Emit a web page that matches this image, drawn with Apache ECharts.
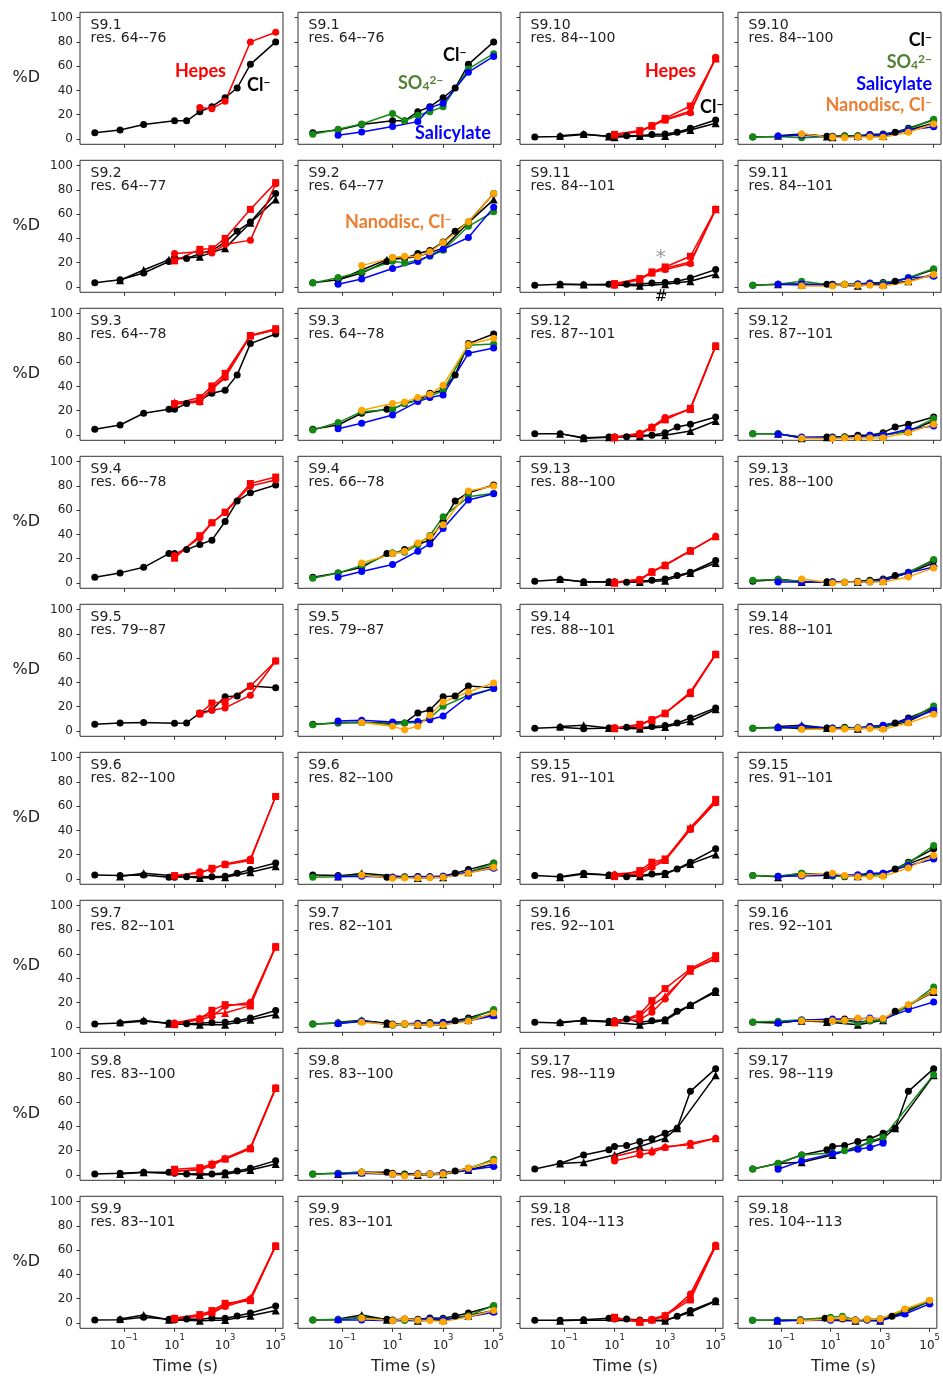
<!DOCTYPE html>
<html><head><meta charset="utf-8">
<script src="https://cdn.jsdelivr.net/npm/echarts@6/dist/echarts.min.js"></script>
<style>html,body{margin:0;padding:0;background:#fff}#c{width:943px;height:1376px}</style>
</head><body><div id="c"></div>
<script>
const N = null;
// time points (s)
const TIME_CL = [0.007, 0.07, 0.6, 6, 10, 30, 100, 300, 1000, 3000, 10000, 100000];
const TIME_HEPES = [10, 100, 300, 1000, 10000, 100000];
const TIME_SO4 = [0.007, 0.07, 0.6, 10, 30, 100, 300, 1000, 10000, 100000];
const TIME_SAL = [0.07, 0.6, 10, 100, 300, 1000, 10000, 100000];
const TIME_ND = [0.6, 10, 30, 100, 300, 1000, 10000, 100000];

const PEPTIDES = ['S9.1','S9.2','S9.3','S9.4','S9.5','S9.6','S9.7','S9.8','S9.9',
  'S9.10','S9.11','S9.12','S9.13','S9.14','S9.15','S9.16','S9.17','S9.18'];
const RESIDUES = ['64--76','64--77','64--78','66--78','79--87','82--100','82--101','83--100','83--101',
  '84--100','84--101','87--101','88--100','88--101','91--101','92--101','98--119','104--113'];

// Cl- (black circles), times TIME_CL
const CL_CIRCLE = [
  [5.2, 7.4, 12, N, 15, 15, 22.5, 26.6, 34, 42, 61.5, 80],
  [3.5, 6, 11.5, 21, 24, 23.5, 27.5, 30, 37, 46, 53.5, 77],
  [4.7, 8.2, 17.9, 21.2, 21.2, 26, 28.8, 34.3, 36.8, 49.5, 75.3, 83.2],
  [4.7, 8.3, 12.9, 24.2, 24.2, 27.5, 31.7, 35.3, 50.7, 67.5, 74.4, 80.7],
  [5.5, 6.6, 6.9, N, 6.3, 6.6, 14.8, 17.3, 28.3, 28.8, 37, 35.7],
  [3.3, 2.8, 3.3, 1.4, 1.5, 1.9, 2, 1.9, 2.2, 4.7, 7.7, 13.2],
  [2.5, 3.3, 4.7, 3.3, 2.5, 2.7, 3, 3.6, 3.8, 5.2, 7.4, 13.5],
  [0.8, 1.4, 2.2, 2.2, 1.5, 0.8, 1, 0.8, 1.9, 3.3, 5.5, 11.8],
  [2.5, 2.7, 4.7, 3, 2.5, 3.3, 3, 4.1, 3.8, 5.8, 8.2, 14],
  [1.6, 2, 3.6, 2.2, 2.2, 2.7, 2.7, 3.6, 4, 5.5, 8.8, 15.7],
  [1.4, 2.2, 1.9, 2.2, 2.2, 2.2, 2.5, 3.3, 3.6, 4.7, 7.4, 14.3],
  [1.1, 1.1, -2.2, -1.6, -1.6, -1.4, -0.3, -0.3, 1.9, 6.6, 8.8, 14.8],
  [1.4, 2.8, 1.1, 1.1, 1.1, 0.5, 1.4, 2.2, 3.3, 6.1, 8.8, 18.5],
  [2.2, 3, 1.9, 2.5, 2.5, 3, 2.5, 3.6, 4.4, 6.6, 10.7, 19],
  [2.8, 1.9, 4.7, 3.3, 3.3, 1.9, 2.8, 4.1, 4.7, 8.3, 13.8, 24.8],
  [3.8, 3.3, 5.5, 4.7, 5.2, 6.6, 3.8, 5.2, 6, 12.9, 17.9, 29.9],
  [5, 9.4, 16.5, 20.7, 23.4, 24.2, 27.5, 29.8, 34.4, 38.6, 68.9, 87.6],
  [2.2, 2.2, 2.7, 3.8, 3.3, 3.3, 2.5, 2.5, 2, 5.5, 10.2, 18.4]
];
// Cl- replicate (black triangles), times TIME_CL
const CL_TRIANGLE = [
  [],
  [N, 5.5, 14, 22.5, N, N, 25, N, 32, N, 53, 72],
  [],
  [],
  [],
  [N, 2, 4.7, N, N, N, 0.8, N, 1.4, N, 5.5, 10.5],
  [N, 3.8, 5.5, 2.7, N, N, 1.9, N, 1.9, N, 6, 10.2],
  [N, 0.8, 2.2, N, N, N, 0, N, 0.5, N, 4.1, 9.1],
  [N, 3.3, 6.6, 2.7, N, N, 1.9, N, 2.5, N, 6, 10.2],
  [N, 2.7, 4, 2, 1.4, N, 2.5, N, 2.5, N, 7.4, 13],
  [N, 2.2, 2, N, N, N, 1.1, N, 2.2, N, 4.7, 10.5],
  [N, 1.1, -2.7, -1.9, N, N, -1, N, -0.3, N, 3.3, 11.5],
  [N, 3.3, 0.8, 0.8, N, N, 0.8, N, 1.9, N, 8.3, 16.5],
  [N, 3.6, 4.7, 2.5, N, N, 1.9, N, 3.3, N, 8, 17.9],
  [N, 1.4, 4.1, 3.3, N, N, 2.2, N, 4.1, N, 12.4, 20.1],
  [N, 4.1, 5.2, 4.1, N, N, 1.9, N, 5.5, N, 18, 28.8],
  [N, 9.4, 10.5, N, 16.5, N, 23.4, N, 30.3, 38.6, N, 82.1],
  [N, 1.9, 2.5, N, N, N, 1.9, N, 1.9, N, 8.8, 17.9]
];
// Hepes (red), times TIME_HEPES
const HEPES_CIRCLE = [
  [N, 26, 25, 31, 80, 88],
  [27.5, 29, 28, 35, 38.6, 85],
  [25.3, 27.2, 37.6, 47.3, 81.6, 86.8],
  [22.6, 37.2, 49.6, 57.9, 79.9, 84.8],
  [N, 13.7, 17, 19, 29.4, 57.7],
  [2.2, 6, 7.7, 12.4, 16.5, 68],
  [3.3, 6, 8.8, 17, 20.3, 66.2],
  [3.3, 4.1, 7.7, 13.2, 22, 71.6],
  [3.3, 5.5, 8.2, 13.5, 19.8, 63.5],
  [3.3, 6, 10.7, 15.7, 21.7, 67.3],
  [1.4, 6, 11.6, 14.3, 19.3, 64],
  [-1.6, 1.4, 6.6, 14.3, 21.2, 73.4],
  [0.6, 2.8, 9.4, 14.9, 26.7, 38.6],
  [2.5, 4.7, 9.3, 14.6, 32.1, 63.2],
  [3.3, 4.1, 9.6, 15.2, 40.8, 62.8],
  [4.7, 6, 12.1, 23.1, 47.3, 56],
  [11.6, 16.5, 18.7, 22.6, 26.2, 30.3],
  [3.8, 1.9, 2.7, 5.5, 23.9, 64.3]
];
const HEPES_TRIANGLE = [
  [],
  [],
  [27, 28, 38.5, 48.5, 82, 87],
  [],
  [],
  [],
  [3.3, 7.4, 10.7, 11.5, 17.6, 66.2],
  [2.8, 4.7, 9.6, 13.8, 22.6, 71.6],
  [3.8, 6.6, 9.3, 14.8, 20.6, 63.5],
  [3.6, 6.3, 10.8, 16, 23, 66.5],
  [2, 6.5, 12, 15.5, 20.5, 64],
  [-1.9, 1, 6.3, 13.5, 21.5, 73.4],
  [0.3, 3, 9.2, 14.7, 26.5, 38.5],
  [2.2, 5, 9.3, 14.6, 31.5, 63.2],
  [4.1, 5.5, 11.6, 15.7, 42.7, 63.9],
  [4.1, 8.8, 17.6, 25.3, 46.4, 56.9],
  [15.2, 20.1, 20.5, 23.4, 24.8, 30.3],
  [4.1, 1.4, 3, 6.6, 21.2, 63.8]
];
const HEPES_SQUARE = [
  [],
  [21.5, 31, 31.5, 40, 64, 86],
  [25.8, 30.8, 40.4, 50.8, 82, 87.6],
  [20.4, 39, 49.6, 58.4, 82, 87.3],
  [N, 14.3, 23, 24, 36.8, 57.7],
  [2.8, 4.7, 8.8, 11.8, 15.2, 68],
  [1.9, 6.6, 13.7, 18.4, 18.4, 66.2],
  [4.7, 6, 8.8, 13.2, 21.5, 71.6],
  [3.8, 6.9, 10.2, 16.2, 18.4, 63.5],
  [3.8, 6.9, 11, 17, 27.2, 66],
  [2.8, 6.9, 12.4, 16.5, 25.3, 64],
  [-2.2, 0.5, 6, 12.4, 22, 73.4],
  [0, 2.5, 9, 14.5, 26.5, N],
  [2.2, 5.5, 9.3, 14.6, 30.8, 63.2],
  [1.9, 6.9, 13.8, 16.5, 41.3, 65.6],
  [3.3, 10.7, 21.7, 31.6, 48, 58.8],
  [],
  [4.7, 0.5, 2.5, 6, 19, 63.2]
];
// SO4 2- (green), times TIME_SO4
const SO4 = [
  [3.8, 8, 12.4, 21, 15, 19.5, 22.5, 26.6, 57.7, 70.3],
  [3.3, 7.7, 12.4, 21.2, 19.8, 22, 25.3, 30.3, 50, 62],
  [4.1, 10.2, 19.2, 21.2, 26, 28.3, 32, 36.3, 74, 75],
  [3.9, 8.3, 14.3, 24.8, 25.3, 31.7, 39.1, 54.5, 71, 74],
  [5.2, 6.9, 7.4, 5.2, 6.6, 7, 10.7, 20.3, 29.4, 35],
  [1.4, 1.9, 3.3, 1.4, 1.5, 1.5, 1.5, 1.8, 5.5, 12.9],
  [2.5, 3.3, 5.2, 1.4, 2, 2.5, 3, 3, 6, 14.3],
  [0.6, 1.4, 2.5, 0.5, 0, 0.5, 0.5, 0.8, 5, 13],
  [2.5, 3, 4.5, 2, 2, 2.5, 3, 3, 6, 14.3],
  [1.6, 2, 1.1, 2, 2.2, 2.5, 2.7, 3.3, 8, 16.2],
  [1.4, 2.2, 4.7, 1.4, 2.2, 2.5, 2.8, 3, 7.7, 15],
  [1.1, 1.1, -2, -2, -2, -2, -1, 0, 3, 13.5],
  [2.2, 2.8, 1.5, 0.8, 0.5, 0.8, 1.4, 2.5, 8.3, 19.3],
  [2.2, 2.7, 3, 2, 2.5, 2.5, 3, 3.5, 9, 20.6],
  [2.8, 2.2, 4.7, 2.2, 2.2, 2.2, 3, 4, 13, 27.5],
  [4.1, 4.7, 6, 5, 5.2, 3.5, 5, 5.5, 17, 33],
  [5, 9.6, 16.5, 18, 20, 22, 28, 31, N, 82.6],
  [2.2, 2.2, 2.7, 4.7, 5.5, 2.5, 3, 3.5, 10, 18]
];
// Salicylate (blue), times TIME_SAL
const SALICYLATE = [
  [3, 5.8, 10.2, 14.3, 25.8, 29.4, 55, 68],
  [2.2, 6.6, 15.2, 21, 26, 31, 40.8, 65.6],
  [5.2, 9.6, 16.5, 27.5, 30.8, 33, 67.3, 71.7],
  [4.7, 9.4, 15.2, 26.2, 32.2, 44.9, 68.3, 73.6],
  [8.2, 8.8, 7.4, 7.7, 9.3, 12.4, 28.6, 34.9],
  [1.9, 2.2, 1.4, 1.9, 1.9, 2.2, 5.5, 8.8],
  [2.7, 4.7, 1.9, 2.7, 2.7, 3.3, 5.2, 9.3],
  [0.8, 1.4, 0.6, 0.8, 0.8, 1.4, 4.1, 6.9],
  [2.5, 2.5, 1.9, 2.5, 3.3, 2.7, 5.2, 8.8],
  [2.5, 3, 1.6, 1.6, 3.3, 3.3, 7.4, 10],
  [2.2, 2.5, 1.4, 2.2, 2.8, 2, 7.4, 8.8],
  [0.5, -1.6, -2.2, -1.6, -0.3, -0.3, 4.7, 7.4],
  [0.8, 0.8, 0.8, 0.5, 0.8, 2.2, 8.3, 13.2],
  [2.7, 3.5, 2.2, 2.5, 3.6, 4.7, 9.3, 17],
  [2.2, 2.5, 3, 3.5, 4.7, 4.7, 11, 16.5],
  [3.3, 5.5, 6.6, 6.5, 7.4, 6.6, 14.3, 20.6],
  [4.7, 11.6, 17.4, 21.2, 22.6, 26.2, N, N],
  [1.9, 2, 2.2, 2.5, 2.5, 1.9, 7.4, 15.7]
];
// Nanodisc, Cl- (orange), times TIME_ND
const NANODISC = [
  [],
  [17.6, 24.2, 25.3, 24.8, 29, 36.6, 53.7, 77],
  [20.3, 26, 27.2, 30.8, 33.5, 40.9, 74.5, 79.7],
  [16.5, 24.2, 26.2, 33, 38.6, 47.9, 75.8, 79.9],
  [6.9, 3.8, 1.1, 3.8, 13, 23.9, 32.1, 39.6],
  [3.3, 0.6, 0.8, 0.8, 1.1, 1.4, 4.7, 9.6],
  [3.8, 1.9, 2.7, 1.9, 2.2, 1.9, 4.7, 11.5],
  [2.2, 0.6, -0.8, 0.6, 0.8, 0.8, 5.5, 11.6],
  [3.8, 1.9, 3.3, 2.2, 2, 1.1, 5.2, 10.2],
  [4, 1.4, 1.1, 1.6, 1.6, 1.4, 5.5, 12.4],
  [0.8, 0.8, 2.2, 1.4, 1.4, 0.8, 4.1, 10.2],
  [-2.7, -3, -2.5, -2.2, -2.5, -2.2, 1.9, 8.8],
  [3.3, 0, 0.6, 0.8, 0.8, 0.8, 5, 12.4],
  [1.4, 1.4, 1.6, 2.2, 2, 1.4, 6.6, 13.7],
  [3.3, 4.7, 2.8, 1.9, 2, 2.2, 9.1, 19.3],
  [5.2, 5.2, 5.5, 7.4, 6.5, 6.9, 18.4, 29.4],
  [],
  [1.9, 3.3, 4.1, 2.2, 3, 3.3, 11.5, 18.7]
];
const X_TICK_EXP = [-1, 1, 3, 5];
const Y_TICKS = [0, 20, 40, 60, 80, 100];

// ---------- layout / style ----------
const COL_LEFT = [80, 298, 520, 738], PANEL_W = 203, PANEL_H = 132, ROW_TOP = 12.3, ROW_STEP = 148;
const XEXP = [-2.74, 5.29], YR = [-4.4, 104.4];
const AX = '#333', TXT = '#222';
const C_BLACK = '#000000', C_RED = '#ff0000', C_GREEN = '#138a13', C_BLUE = '#0000ff', C_ORANGE = '#ffa500';

const grid = [], xAxis = [], yAxis = [], series = [], graphic = [];

function pts(times, vals) {
  const out = [];
  (vals || []).forEach((v, i) => { if (v !== null && v !== undefined) out.push([times[i], v]); });
  return out;
}
function addLine(xi, yi, times, vals, color, symbol) {
  const data = pts(times, vals);
  if (!data.length) return;
  series.push({
    type: 'line', xAxisIndex: xi, yAxisIndex: yi, data,
    symbol, symbolSize: symbol === 'triangle' ? 8 : 7,
    showSymbol: true, silent: true, animation: false,
    lineStyle: { color, width: 1.5 }, itemStyle: { color, borderWidth: 0 }
  });
}

function addPanel(p, kind) {
  const pair = p < 9 ? 0 : 1, row = p % 9, col = pair * 2 + kind;
  const g = grid.length;
  const left = COL_LEFT[col], top = ROW_TOP + row * ROW_STEP;
  grid.push({ left, top, width: PANEL_W, height: PANEL_H, show: true, borderColor: AX, borderWidth: 1, backgroundColor: 'transparent' });
  xAxis.push({ gridIndex: g, type: 'log', logBase: 10, min: Math.pow(10, XEXP[0]), max: Math.pow(10, XEXP[1]),
    position: 'top', show: false, axisLine: { onZero: false } });
  xAxis.push({
    gridIndex: g, type: 'value', min: XEXP[0], max: XEXP[1], position: 'bottom',
    axisLine: { show: false, onZero: false }, splitLine: { show: false },
    axisTick: { show: true, length: 3.5, customValues: X_TICK_EXP, lineStyle: { color: AX, width: 1 } },
    axisLabel: {
      show: row === 8, customValues: X_TICK_EXP, margin: 5, color: TXT, fontSize: 12, fontFamily: 'DejaVu Sans',
      formatter: v => '{b|10}{sup|' + (v < 0 ? '\u2212' : '') + Math.abs(v) + '}',
      rich: {
        b: { fontSize: 12, fontFamily: 'DejaVu Sans', color: TXT, lineHeight: 19, verticalAlign: 'bottom' },
        sup: { fontSize: 8.5, fontFamily: 'DejaVu Sans', color: TXT, lineHeight: 10, verticalAlign: 'top' }
      }
    }
  });
  yAxis.push({
    gridIndex: g, type: 'value', min: YR[0], max: YR[1],
    axisLine: { show: false, onZero: false }, splitLine: { show: false },
    axisTick: { show: true, length: 3.5, customValues: Y_TICKS, lineStyle: { color: AX, width: 1 } },
    axisLabel: { show: col === 0, customValues: Y_TICKS, margin: 7, color: TXT, fontSize: 12, fontFamily: 'DejaVu Sans' }
  });
  const xi = 2 * g, yi = g;
  addLine(xi, yi, TIME_CL, CL_CIRCLE[p], C_BLACK, 'circle');
  addLine(xi, yi, TIME_CL, CL_TRIANGLE[p], C_BLACK, 'triangle');
  if (kind === 0) {
    addLine(xi, yi, TIME_HEPES, HEPES_CIRCLE[p], C_RED, 'circle');
    addLine(xi, yi, TIME_HEPES, HEPES_TRIANGLE[p], C_RED, 'triangle');
    addLine(xi, yi, TIME_HEPES, HEPES_SQUARE[p], C_RED, 'rect');
  } else {
    addLine(xi, yi, TIME_SO4, SO4[p], C_GREEN, 'circle');
    addLine(xi, yi, TIME_SAL, SALICYLATE[p], C_BLUE, 'circle');
    addLine(xi, yi, TIME_ND, NANODISC[p], C_ORANGE, 'circle');
  }
  graphic.push({
    type: 'text', x: left + 10.5, y: top + 7.4, silent: true,
    style: { text: PEPTIDES[p] + '\nres. ' + RESIDUES[p], fontSize: 14, fontFamily: 'DejaVu Sans', fill: TXT, lineHeight: 12.3, align: 'left', verticalAlign: 'top' }
  });
  if (col === 0) {
    graphic.push({ type: 'text', x: 26.3, y: top + PANEL_H / 2 - 0.6, silent: true,
      style: { text: '%D', fontSize: 16, fontFamily: 'DejaVu Sans', fill: TXT, align: 'center', verticalAlign: 'middle' } });
  }
  if (row === 8) {
    graphic.push({ type: 'text', x: left + PANEL_W / 2 + 4, y: 1366.7, silent: true,
      style: { text: 'Time (s)', fontSize: 16, fontFamily: 'DejaVu Sans', fill: TXT, align: 'center', verticalAlign: 'middle' } });
  }
}

for (let p = 0; p < 18; p++) { addPanel(p, 0); addPanel(p, 1); }

// legend-like annotations
const LF = 'Lato';
function lab(x, y, text, color, align) {
  graphic.push({ type: 'text', x, y, silent: true, z: 100,
    style: { text, fill: color, fontSize: 18, fontWeight: 'bold', fontFamily: LF, align: align || 'left', verticalAlign: 'middle',
      rich: {
        sup: { fontSize: 12, fontWeight: 'bold', fontFamily: LF, fill: color, verticalAlign: 'top' },
        sub: { fontSize: 12, fontWeight: 'bold', fontFamily: LF, fill: color, verticalAlign: 'bottom' }
      } } });
}
const CL_TXT = 'Cl{sup|\u2212}', SO4_TXT = 'SO{sub|4}{sup|2\u2212}', SAL_TXT = 'Salicylate', ND_TXT = 'Nanodisc, Cl{sup|\u2212}';
lab(175, 71, 'Hepes', C_RED);
lab(247, 85, CL_TXT, '#000');
lab(443, 55, CL_TXT, '#000');
lab(398, 83, SO4_TXT, '#548235');
lab(415, 133, SAL_TXT, C_BLUE);
lab(345, 222, ND_TXT, '#ed7d31');
lab(645, 71, 'Hepes', C_RED);
lab(700, 107, CL_TXT, '#000');
lab(932, 40, CL_TXT, '#000', 'right');
lab(932, 62, SO4_TXT, '#548235', 'right');
lab(932, 84, SAL_TXT, C_BLUE, 'right');
lab(932, 105, ND_TXT, '#ed7d31', 'right');
graphic.push({ type: 'text', x: 660.7, y: 258, silent: true, z: 100,
  style: { text: '*', fontSize: 20, fontFamily: 'DejaVu Sans', fill: '#999', align: 'center', verticalAlign: 'middle' } });
graphic.push({ type: 'text', x: 661, y: 297, silent: true, z: 100,
  style: { text: '#', fontSize: 15, fontFamily: 'DejaVu Sans', fill: '#000', align: 'center', verticalAlign: 'middle' } });

const chart = echarts.init(document.getElementById('c'), null, { renderer: 'canvas', width: 943, height: 1376 });
chart.setOption({ backgroundColor: '#fff', animation: false, grid, xAxis, yAxis, series, graphic });
</script>
</body></html>
